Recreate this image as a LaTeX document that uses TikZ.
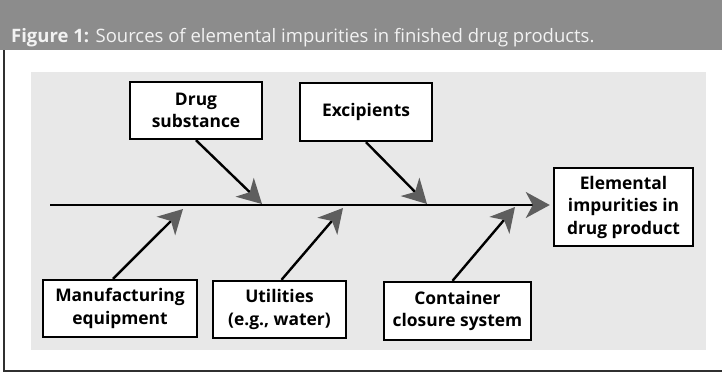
\documentclass[tikz,border=0pt]{standalone}
\usepackage{fontspec}
\setmainfont{Open Sans}
\usetikzlibrary{arrows.meta}
\definecolor{barcol}{HTML}{8C8C8C}
\definecolor{panelcol}{HTML}{E8E8E8}
\definecolor{tipcol}{HTML}{5E5E5E}
\definecolor{titlecol}{HTML}{F2F2F2}
\definecolor{framecol}{HTML}{303030}
\tikzset{
  causebox/.style={draw=black, line width=2.4pt, fill=white, inner sep=0pt,
    align=center, font=\bfseries\fontsize{17.4}{22.5}\selectfont},
  feed/.style={line width=2.4pt,
    -{Stealth[length=24pt, width=26pt, inset=7pt, color=tipcol]}},
}
\begin{document}
\begin{tikzpicture}[x=1pt, y=-1pt]
  \useasboundingbox (0,0) rectangle (722,372);
  % page, title bar, frame and shaded panel
  \fill[white] (0,0) rectangle (722,372);
  \fill[barcol] (0,0) rectangle (722,50);
  \draw[framecol, line width=1.8pt] (4,50) -- (4,371) -- (722,371);
  \fill[panelcol] (31,72) rectangle (706,350);
  \node[anchor=base west, text=titlecol, inner sep=0pt,
        font=\fontsize{18.5}{22}\selectfont] (title) at (11,42)
        {\textbf{Figure 1:} Sources of elemental impurities in finished drug products.};

  % cause boxes
  \node[causebox, minimum width=132pt, minimum height=57pt] (ds) at (196,110.5) {Drug\\substance};
  \node[causebox, minimum width=132pt, minimum height=58pt] (ex) at (366,112) {Excipients};
  \node[causebox, minimum width=154pt, minimum height=57pt] (mf) at (120,308.5) {Manufacturing\\equipment};
  \node[causebox, minimum width=133pt, minimum height=57pt] (ut) at (279.5,309.5) {Utilities\\(e.g., water)};
  \node[causebox, minimum width=147pt, minimum height=58pt] (cc) at (457.5,311) {Container\\closure system};
  % effect box
  \node[causebox, minimum width=139pt, minimum height=78pt] (ei) at (623.5,207) {Elemental\\impurities in\\drug product};

  % spine
  \coordinate (s0) at (50,205);
  \draw[feed] (s0) -- (s0 -| ei.west) [shorten >=3pt];

  % branch tips on the spine
  \coordinate (t1) at (262,204);
  \coordinate (t2) at (427,204);
  \coordinate (t3) at (183,209);
  \coordinate (t4) at (343,208);
  \coordinate (t5) at (515,207);

  \draw[feed] (ds.south) -- (t1);
  \draw[feed] (ex.south) -- (t2);
  \draw[feed] ([xshift=-7pt]mf.north) -- (t3);
  \draw[feed] ([xshift=2pt]ut.north) -- (t4);
  \draw[feed] ([xshift=-5pt]cc.north) -- (t5);
\end{tikzpicture}
\end{document}
